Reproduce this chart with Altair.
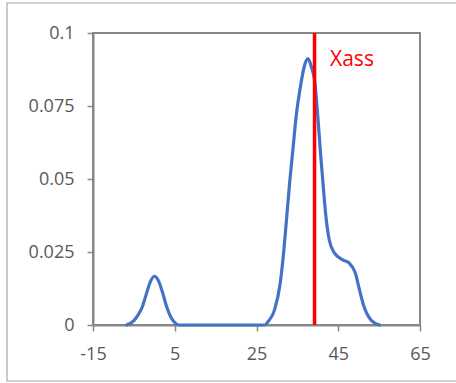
import altair as alt
import pandas as pd

# Density curve
x_vals = [-6.8, -5, -4, -3, -2, -1, 0, 1, 2, 3, 4, 5, 6, 10, 20, 27.0, 27.8, 29.4,
          30.8, 31.7, 32.4, 33.1, 33.9, 34.7, 35.9, 36.7, 37.6, 38.4, 39.3, 40.0,
          40.6, 41.4, 41.9, 42.8, 44.1, 46.1, 47.7, 49.2, 50.2, 51.3, 53.0, 55.1]
y_vals = [0, 0.0015, 0.0034, 0.006, 0.0104, 0.0147, 0.0167, 0.0152, 0.0112, 0.0063,
          0.0028, 0.0008, 0, 0, 0, 0, 0.0011, 0.0051, 0.0143, 0.0257, 0.0371, 0.0486,
          0.06, 0.0714, 0.0829, 0.0886, 0.0912, 0.0885, 0.0829, 0.0714, 0.06, 0.0463,
          0.0383, 0.0291, 0.0246, 0.0223, 0.0212, 0.0177, 0.012, 0.0063, 0.0017, 0]

x_ticks = [-15, 5, 25, 45, 65]
y_ticks = [0, 0.025, 0.05, 0.075, 0.1]

xass_value = 39.2
marker_label = ["Xass"]
label_x = [43.0]
label_y = [0.0886]

curve = pd.DataFrame({"x": x_vals, "y": y_vals})
rule_df = pd.DataFrame({"x": [xass_value], "y": [0.0], "y2": [0.1]})
text_df = pd.DataFrame({"x": label_x, "y": label_y, "t": marker_label})
frame_df = pd.DataFrame({"a": [0]})

GRAY = "#878787"
FONT = "Open Sans"

xscale = alt.Scale(domain=[-15, 65], nice=False, zero=False)
yscale = alt.Scale(domain=[0, 0.1], nice=False)

xaxis = alt.Axis(values=x_ticks, labelExpr="'' + datum.value", grid=False,
                 domainColor=GRAY, domainWidth=2, tickColor=GRAY, tickWidth=1.5,
                 tickSize=6, labelPadding=14, labelFont=FONT, labelFontSize=18,
                 labelColor="#595959", labelFlush=False, labelOverlap=False,
                 labelBound=False, title=None)
yaxis = alt.Axis(values=y_ticks, labelExpr="'' + datum.value", grid=False,
                 domainColor=GRAY, domainWidth=2, tickColor=GRAY, tickWidth=1.5,
                 tickSize=6, labelPadding=13, labelFont=FONT, labelFontSize=18,
                 labelColor="#595959", labelFlush=False, labelOverlap=False,
                 labelBound=False, title=None)

frame = alt.Chart(frame_df).mark_rect(fill=None, stroke="#a6a6a6", strokeWidth=1.2).encode(
    x=alt.value(-86), x2=alt.value(380), y=alt.value(-30), y2=alt.value(348)
)

line = alt.Chart(curve).mark_line(
    color="#4472C4", strokeWidth=3.2, interpolate="monotone", strokeCap="round"
).encode(
    x=alt.X("x:Q", scale=xscale, axis=xaxis),
    y=alt.Y("y:Q", scale=yscale, axis=yaxis),
)

rule = alt.Chart(rule_df).mark_rule(color="#FF0000", strokeWidth=3.5).encode(
    x="x:Q", y="y:Q", y2="y2:Q"
)

text = alt.Chart(text_df).mark_text(
    align="left", baseline="alphabetic", font=FONT, fontSize=21, color="#FF0000"
).encode(x="x:Q", y="y:Q", text="t:N")

chart = alt.layer(frame, line, rule, text).properties(
    width=327, height=292,
    background="white",
    autosize=alt.AutoSizeParams(type="none"),
    padding={"left": 93, "top": 33, "right": 36, "bottom": 58},
).configure_view(stroke=GRAY, strokeWidth=2)

chart.save("out.html", embed_options={"renderer": "svg", "actions": False})
